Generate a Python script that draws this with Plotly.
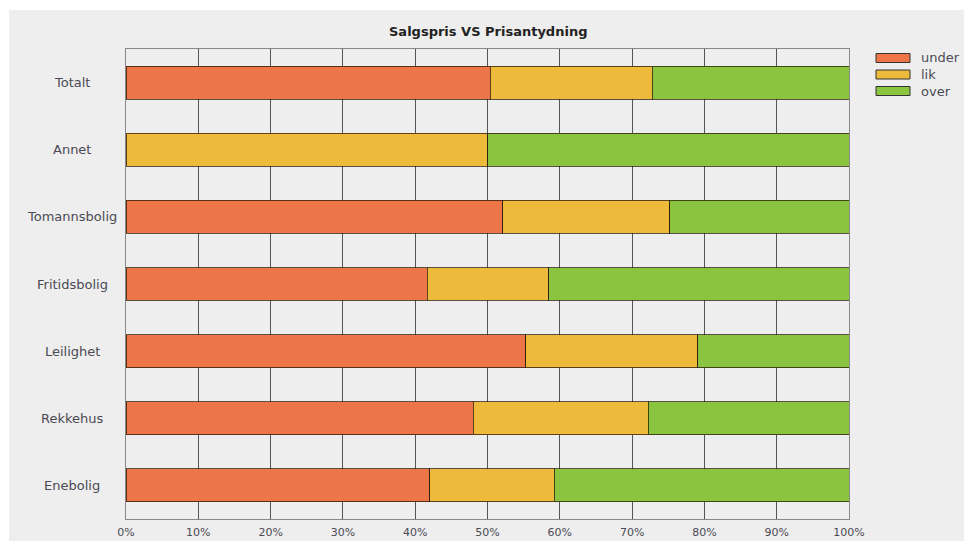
import plotly.graph_objects as go

# Share of sales per housing type, sold under / at / over the asking price (%)
categories = ["Totalt", "Annet", "Tomannsbolig", "Fritidsbolig", "Leilighet", "Rekkehus", "Enebolig"]
under = [50.4, 0.0, 52.1, 41.7, 55.3, 48.0, 42.0]
lik = [22.4, 50.0, 23.1, 16.8, 23.8, 24.2, 17.2]
over = [27.2, 50.0, 24.8, 41.5, 20.9, 27.8, 40.8]
series_names = ["under", "lik", "over"]
series_colors = ["#EE7548", "#EDBA3C", "#8BC43F"]
x_ticks = [0, 10, 20, 30, 40, 50, 60, 70, 80, 90, 100]
title_text = "Salgspris VS Prisantydning"

FONT = "DejaVu Sans"
TEXT = "#4a4a55"
PANEL = "#eeeeee"

W, H = 964, 541
L, R, T, B = 126, 849, 49, 519

fig = go.Figure()
for name, vals, col in zip(series_names, [under, lik, over], series_colors):
    fig.add_trace(go.Bar(
        y=categories, x=vals, name=name, orientation="h",
        marker=dict(color=col, line=dict(color="rgba(40,25,10,0.75)", width=1)),
        width=0.49, showlegend=False,
    ))

def px_x(p):
    return (p - L) / (R - L)

def px_y(p):
    return (B - p) / (B - T)

shapes = [
    # grey panel behind the whole chart
    dict(type="rect", xref="paper", yref="paper", layer="below",
         x0=px_x(9), x1=px_x(W + 5), y0=px_y(H + 5), y1=px_y(10),
         fillcolor=PANEL, line=dict(width=0)),
]
annotations = []

# category labels, centred in the left margin
for c in categories:
    annotations.append(dict(x=px_x(72), xref="paper", y=c, yref="y", text=c,
                            showarrow=False, xanchor="center", yanchor="middle",
                            font=dict(family=FONT, size=13, color=TEXT)))

# legend: wide swatches with labels
for i, (name, col) in enumerate(zip(series_names, series_colors)):
    top = 53.5 + i * 16.5
    shapes.append(dict(type="rect", xref="paper", yref="paper",
                       x0=px_x(876), x1=px_x(910), y0=px_y(top + 9), y1=px_y(top),
                       fillcolor=col, line=dict(color="#333333", width=1)))
    annotations.append(dict(x=px_x(919), xref="paper", y=px_y(top + 4.5), yref="paper",
                            text=name, showarrow=False, xanchor="left", yanchor="middle",
                            font=dict(family=FONT, size=13, color=TEXT)))

# title
annotations.append(dict(x=0.5, xref="paper", y=px_y(32), yref="paper", text="<b>" + title_text + "</b>",
                        showarrow=False, xanchor="center", yanchor="middle",
                        font=dict(family=FONT, size=13, color="#222222")))

fig.update_layout(
    width=W, height=H,
    margin=dict(l=L, r=W - R, t=T, b=H - B, pad=0, autoexpand=False),
    paper_bgcolor="white", plot_bgcolor=PANEL,
    barmode="stack", bargap=0.51,
    shapes=shapes, annotations=annotations,
    showlegend=False,
    xaxis=dict(range=[0, 100], tickvals=x_ticks, ticktext=[f"{v}%" for v in x_ticks],
               showgrid=True, gridcolor="#555555", gridwidth=1, zeroline=False,
               showline=True, linecolor="#888888", linewidth=1, mirror=True,
               ticks="", ticklabelstandoff=3, automargin=False,
               tickfont=dict(family=FONT, size=11, color=TEXT), fixedrange=True),
    yaxis=dict(categoryorder="array", categoryarray=categories[::-1],
               range=[-0.5, len(categories) - 0.5], automargin=False,
               showgrid=False, zeroline=False, showticklabels=False,
               showline=True, linecolor="#888888", linewidth=1, mirror=True,
               ticks="", fixedrange=True),
)

fig.write_html("out.html")
